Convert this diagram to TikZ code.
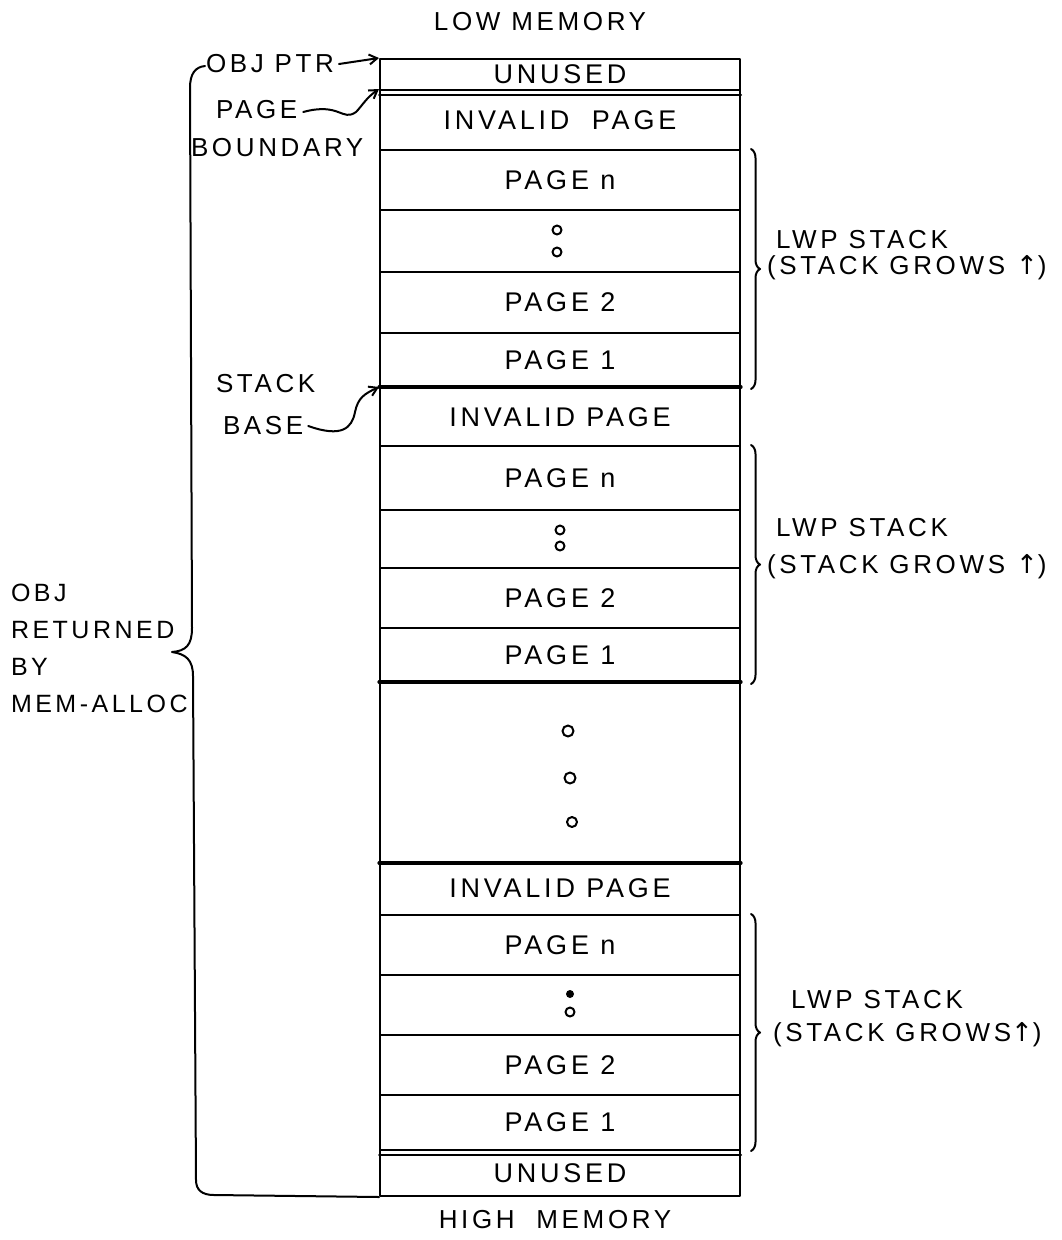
\documentclass[tikz,border=0pt]{standalone}
\usepackage{fontspec}
\setmainfont{Liberation Sans}[LetterSpace=14]
\newfontfamily\arrowfont{DejaVu Sans}
\usetikzlibrary{decorations.pathreplacing,arrows.meta}
\newcommand{\uparr}{{\arrowfont ↑}}
\begin{document}
\begin{tikzpicture}[x=1pt,y=-1pt,
  line width=2pt, line cap=round, line join=round,
  cell/.style={draw, line width=2pt, minimum width=360pt, inner sep=0pt,
    font=\fontsize{27}{32}\selectfont},
  lbl/.style={inner sep=0pt, font=\fontsize{26}{30}\selectfont},
  side/.style={inner sep=0pt, anchor=west, font=\fontsize{26}{30}\selectfont},
  rbrace/.style={decorate, decoration={brace, amplitude=9pt}, line width=2pt},
  arr/.style={-{Straight Barb[length=8pt,width=10pt]}, line width=2pt},
  dot/.style={draw, line width=2pt}
]
\useasboundingbox (0,0) rectangle (1062,1240);

% column
\node[cell, minimum height=31pt]  (uTop) at (560,74.5)  {UNUSED};
\node[cell, minimum height=60pt]  (invA) at (560,120)   {INVALID\ \ PAGE};
\node[cell, minimum height=60pt]  (anN)  at (560,180)   {PAGE n};
\node[cell, minimum height=62pt]  (aDot) at (560,241)   {};
\node[cell, minimum height=61pt]  (a2)   at (560,302.5) {PAGE 2};
\node[cell, minimum height=55pt]  (a1)   at (560,360.5) {PAGE 1};
\node[cell, minimum height=58pt]  (invB) at (560,417)   {INVALID PAGE};
\node[cell, minimum height=64pt]  (bN)   at (560,478)   {PAGE n};
\node[cell, minimum height=58pt]  (bDot) at (560,539)   {};
\node[cell, minimum height=60pt]  (b2)   at (560,598)   {PAGE 2};
\node[cell, minimum height=55pt]  (b1)   at (560,655.5) {PAGE 1};
\node[cell, minimum height=179pt] (gap)  at (560,772.5) {};
\node[cell, minimum height=53pt]  (invC) at (560,888.5) {INVALID PAGE};
\node[cell, minimum height=60pt]  (cN)   at (560,945)   {PAGE n};
\node[cell, minimum height=60pt]  (cDot) at (560,1005)  {};
\node[cell, minimum height=60pt]  (c2)   at (560,1065)  {PAGE 2};
\node[cell, minimum height=55pt]  (c1)   at (560,1122.5){PAGE 1};
\node[cell, minimum height=46pt]  (uBot) at (560,1173)  {UNUSED};

% double and heavy boundaries
\draw (uTop.south west) ++(0,3.5) -- ([yshift=-3.5pt]uTop.south east);
\draw (c1.south west) ++(0,3.5) -- ([yshift=-3.5pt]c1.south east);
\draw[line width=3.2pt] (invB.north west) -- (invB.north east);
\draw[line width=3.2pt] (gap.north west) -- (gap.north east);
\draw[line width=3.2pt] (gap.south west) -- (gap.south east);

% dots
\draw[dot] (557,230) circle (4.5pt) (557,252) circle (4.5pt);
\draw[dot] (560,530) circle (4.5pt) (560,546) circle (4.5pt);
\draw[dot] (568,731) circle (5.5pt) (570,778) circle (5.5pt) (572,822) circle (5pt);
\fill (570,994) circle (4pt);
\draw[dot] (570,1012) circle (4.5pt);

% top / bottom labels
\node[lbl] (low)  at (540,22)   {LOW MEMORY};
\node[lbl] (high) at (555,1220) {HIGH\ \ MEMORY};

% left labels and arrows
\node[lbl, anchor=west] (objptr) at (205,64) {OBJ PTR};
\draw[arr] (objptr.east) ++(4,0) -- (uTop.north west);
\node[lbl, anchor=west] (pagelbl) at (215,110) {PAGE};
\node[lbl, anchor=west] (boundlbl) at (190,148) {BOUNDARY};
\draw[arr] (pagelbl.east) ++(5,2) .. controls (340,102) and (342,122) .. (356,112)
  .. controls (362,106) and (366,98) .. (invA.north west);
\node[lbl, anchor=west] (stacklbl) at (215,384) {STACK};
\node[lbl, anchor=west] (baselbl) at (222,426) {BASE};
\draw[arr] (baselbl.east) ++(4,0) .. controls (342,438) and (352,428) .. (355,412)
  .. controls (358,398) and (364,394) .. (invB.north west);

% left brace
\coordinate (lbTop) at (205,66);
\coordinate (lbTip) at (172,652);
\draw (lbTop) .. controls (195,67) and (190,74) .. (190,88)
  -- (192,628) .. controls (192,645) and (186,651) .. (lbTip)
  .. controls (186,654) and (193,660) .. (193,676)
  -- (196,1180) .. controls (196,1190) and (202,1195) .. (214,1195)
  -- (uBot.south west);
\node[lbl, anchor=west, align=left, font=\fontsize{25}{37}\selectfont] (objret) at (10,648)
  {OBJ\\RETURNED\\BY\\MEM-ALLOC};

% right braces and labels
\draw[rbrace] (anN.north east) ++(10,0) -- ([xshift=10pt]a1.south east);
\node[side] (lwpA) at (775,240) {LWP STACK};
\node[side] (grA)  at (766,268) {(STACK GROWS \uparr)};
\draw[rbrace] (bN.north east) ++(10,0) -- ([xshift=10pt]b1.south east);
\node[side] (lwpB) at (775,528) {LWP STACK};
\node[side] (grB)  at (766,567) {(STACK GROWS \uparr)};
\draw[rbrace] (cN.north east) ++(10,0) -- ([xshift=10pt]c1.south east);
\node[side] (lwpC) at (790,1000) {LWP STACK};
\node[side] (grC)  at (772,1035) {(STACK GROWS\uparr)};
\end{tikzpicture}
\end{document}
